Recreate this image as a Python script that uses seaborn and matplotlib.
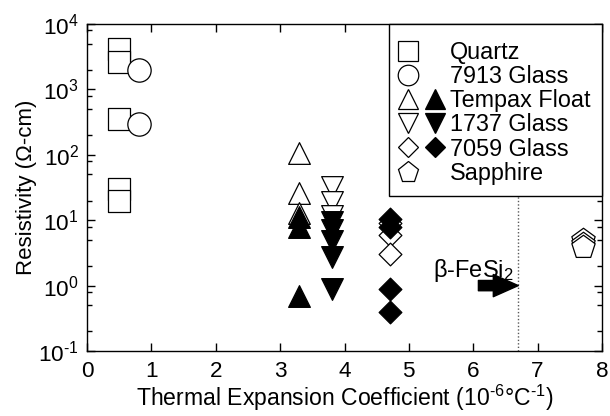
import numpy as np
import pandas as pd
import matplotlib
matplotlib.use("Agg")
import matplotlib.pyplot as plt
import seaborn as sns
from matplotlib.ticker import LogLocator, FixedLocator, NullFormatter, FuncFormatter
from matplotlib.legend_handler import HandlerTuple
from matplotlib.lines import Line2D

sns.set_theme(style="ticks")
plt.rcParams["font.family"] = ["Liberation Sans", "DejaVu Sans"]
plt.rcParams["mathtext.fontset"] = "custom"
plt.rcParams["mathtext.rm"] = "Liberation Sans"
plt.rcParams["mathtext.it"] = "Liberation Sans:italic"
plt.rcParams["mathtext.bf"] = "Liberation Sans:bold"
for k in ["axes.edgecolor", "text.color", "axes.labelcolor", "xtick.color", "ytick.color"]:
    plt.rcParams[k] = "black"

# ---------------- data ----------------
quartz_x = 0.5
quartz_y = [4100, 2600, 350, 30, 20]
glass7913_x = 0.8
glass7913_y = [2000, 300]
tempax_x = 3.3
tempax_open = [105, 26, 13]
tempax_filled = [11, 8, 0.7]
glass1737_x = 3.8
glass1737_open = [32, 19, 11.5]
glass1737_filled = [9.5, 7.2, 4.8, 2.7, 0.9]
glass7059_x = 4.7
glass7059_open = [9, 6, 3]
glass7059_filled = [10.5, 8, 0.9, 0.4]
sapphire_x = 7.7
sapphire_y = [5.0, 4.3, 3.9]
fesi2_x = 6.7
fesi2_y = 1.0
arrow_tail_x = 6.08

legend_labels = ["Quartz", "7913 Glass", "Tempax Float", "1737 Glass", "7059 Glass", "Sapphire"]
x_ticks = [0, 1, 2, 3, 4, 5, 6, 7, 8]

rows = []
def add(mat, fill, x, ys):
    for y in ys:
        rows.append({"material": mat, "fill": fill, "x": x, "y": y})

add("Quartz", "open", quartz_x, quartz_y)
add("7913 Glass", "open", glass7913_x, glass7913_y)
add("Tempax Float", "open", tempax_x, tempax_open)
add("Tempax Float", "filled", tempax_x, tempax_filled)
add("1737 Glass", "open", glass1737_x, glass1737_open)
add("1737 Glass", "filled", glass1737_x, glass1737_filled)
add("7059 Glass", "open", glass7059_x, glass7059_open)
add("7059 Glass", "filled", glass7059_x, glass7059_filled)
add("Sapphire", "open", sapphire_x, sapphire_y)
df = pd.DataFrame(rows)

markers = {"Quartz": "s", "7913 Glass": "o", "Tempax Float": "^",
           "1737 Glass": "v", "7059 Glass": "D", "Sapphire": "p"}
sizes = {"Quartz": 251, "7913 Glass": 282, "Tempax Float": 244,
         "1737 Glass": 244, "7059 Glass": 134, "Sapphire": 311}

fig = plt.figure(figsize=(6.1, 4.16), dpi=100)
ax = fig.add_axes([87 / 610, 1 - 351 / 416, (602 - 87) / 610, (351 - 24) / 416])

ax.axvline(fesi2_x, color="0.35", lw=1.0, ls=(0, (1, 1.5)), zorder=1)

for fill in ["open", "filled"]:
    for mat in legend_labels:
        sub = df[(df.material == mat) & (df.fill == fill)]
        if sub.empty:
            continue
        sns.scatterplot(data=sub, x="x", y="y", ax=ax, marker=markers[mat], s=sizes[mat],
                        color="white" if fill == "open" else "black",
                        edgecolor="black", linewidth=0.9, legend=False, zorder=3)

ax.set_yscale("log")
ax.set_xlim(0, 8)
ax.set_ylim(0.1, 1e4)
ax.xaxis.set_major_locator(FixedLocator(x_ticks))
ax.yaxis.set_major_locator(LogLocator(base=10, numticks=10))
ax.yaxis.set_minor_locator(LogLocator(base=10, subs=(2, 5, 8), numticks=10))
ax.yaxis.set_minor_formatter(NullFormatter())

def yfmt(v, p):
    e = int(round(np.log10(v)))
    if e < 0:
        return r"$10^{\text{-}%d}$" % (-e)
    return r"$10^{%d}$" % e
ax.yaxis.set_major_formatter(FuncFormatter(yfmt))
ax.tick_params(which="both", direction="in", top=True, right=True, width=1.0, labelsize=16.2)
ax.tick_params(which="major", length=6)
ax.tick_params(axis="x", which="major", pad=7)
ax.tick_params(axis="y", which="major", pad=6)
ax.tick_params(which="minor", length=3.5)
for s in ax.spines.values():
    s.set_linewidth(1.0)
    s.set_color("black")

ax.set_xlabel(r"Thermal Expansion Coefficient (10$^{\text{-}6}$°C$^{\text{-}1}$)", fontsize=16.6, labelpad=1)
ax.set_ylabel("Resistivity (Ω-cm)", fontsize=16, labelpad=1)

ax.annotate("", xy=(fesi2_x, fesi2_y), xytext=(arrow_tail_x, fesi2_y),
            arrowprops=dict(arrowstyle="simple,head_length=0.9,head_width=0.8,tail_width=0.37",
                            fc="black", ec="black", shrinkA=0, shrinkB=0, mutation_scale=20),
            zorder=4)
ax.text(5.37, 1.37, r"β-FeSi$_2$", fontsize=17, ha="left", va="baseline")

def h(mk, ms, fc):
    return Line2D([], [], marker=mk, markersize=ms, markerfacecolor=fc,
                  markeredgecolor="black", markeredgewidth=0.9, ls="none")
blank = Line2D([], [], marker=None, ls="none")
handles = [
    (h("s", 14.4, "white"), blank),
    (h("o", 14.8, "white"), blank),
    (h("^", 14.0, "white"), h("^", 14.0, "black")),
    (h("v", 14.0, "white"), h("v", 14.0, "black")),
    (h("D", 10.0, "white"), h("D", 10.0, "black")),
    (h("p", 15.5, "white"), blank),
]
leg_fs = 16.8
leg = ax.legend(handles, legend_labels, loc="upper right", bbox_to_anchor=(1, 1),
                borderaxespad=0, frameon=True, fancybox=False, edgecolor="black",
                framealpha=1, handlelength=1.79, handletextpad=0.33, borderpad=0.5,
                labelspacing=0.05, fontsize=leg_fs, title=" ", title_fontsize=2,
                handler_map={tuple: HandlerTuple(ndivide=None, pad=0.53)})
leg.get_frame().set_linewidth(1.0)
leg.set_zorder(5)

fig.savefig("out.png", dpi=100)
